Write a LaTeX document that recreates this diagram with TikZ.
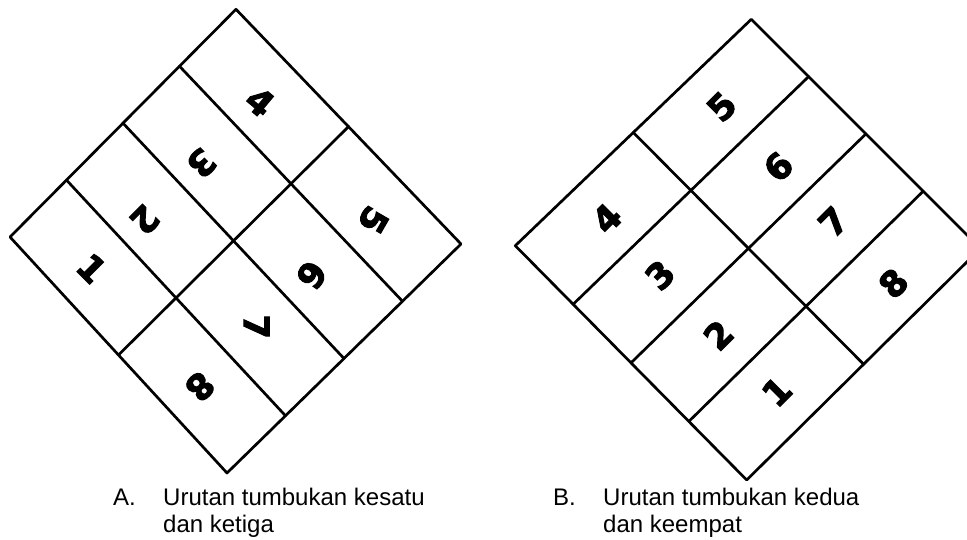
\documentclass[tikz,border=0pt]{standalone}
\usepackage{fontspec}
\setmainfont{Liberation Sans}
\newfontfamily\digitfont{DejaVu Sans}[BoldFeatures={FakeBold=3}]
\usetikzlibrary{calc}
\begin{document}
\begin{tikzpicture}[x=1pt,y=-1pt,
  gridline/.style={line width=2.7pt, line cap=round, line join=round},
  digit/.style={font=\digitfont\bfseries\fontsize{35}{35}\selectfont, inner sep=0pt},
  digitB/.style={digit, rotate=45},
  caption/.style={font=\fontsize{24}{27}\selectfont, anchor=base west, inner sep=0pt}]
\useasboundingbox (0,0) rectangle (967,540);
\clip (0,0) rectangle (967,540);
% ---- left grid (A)
\coordinate (aL) at (10,237);
\coordinate (aT) at (236,9.3);
\coordinate (aR) at (461,244);
\coordinate (aB) at (227,473);
\draw[gridline] (aL) -- (aT) -- (aR) -- (aB) -- cycle;
\foreach \t in {0.25,0.5,0.75}
  \draw[gridline] ($(aL)!\t!(aT)$) -- ($(aB)!\t!(aR)$);
\draw[gridline] ($(aL)!0.5!(aB)$) -- ($(aT)!0.5!(aR)$);
\node[digit, rotate=-45]  (a1) at (91.7,268.3) {1};
\node[digit, rotate=-135] (a2) at (145,220) {2};
\node[digit, rotate=-135] (a3) at (201.7,163.3) {3};
\node[digit, rotate=-40]  (a4) at (260,101.7) {4};
\node[digit, rotate=-120] (a5) at (373.3,220) {5};
\node[digit, rotate=-124] (a6) at (311.7,275) {6};
\node[digit, rotate=-90]  (a7) at (256.7,326.7) {7};
\node[digit, rotate=-135] (a8) at (200,386.7) {8};
% ---- right grid (B)
\coordinate (bL) at (515.3,245.7);
\coordinate (bT) at (751.3,19.3);
\coordinate (bR) at (980.5,248.5);
\coordinate (bB) at (746.7,480);
\draw[gridline] (bL) -- (bT) -- (bR) -- (bB) -- cycle;
\foreach \t in {0.25,0.5,0.75}
  \draw[gridline] ($(bL)!\t!(bB)$) -- ($(bT)!\t!(bR)$);
\draw[gridline] ($(bL)!0.5!(bT)$) -- ($(bB)!0.5!(bR)$);
\node[digitB] (b1) at (776.7,391.7) {1};
\node[digitB] (b2) at (718.3,335) {2};
\node[digitB] (b3) at (660,275) {3};
\node[digitB] (b4) at (606.7,218.3) {4};
\node[digitB] (b5) at (721.7,106.7) {5};
\node[digitB] (b6) at (778.3,166.7) {6};
\node[digitB] (b7) at (833.3,221.7) {7};
\node[digitB] (b8) at (893.3,283.3) {8};
% ---- captions
\node[caption] (capA) at (113,505) {A.};
\node[caption] (capA1) at (163,505) {Urutan tumbukan kesatu};
\node[caption] (capA2) at (163,532) {dan ketiga};
\node[caption] (capB) at (553,505) {B.};
\node[caption] (capB1) at (603,505) {Urutan tumbukan kedua};
\node[caption] (capB2) at (603,532) {dan keempat};
\end{tikzpicture}
\end{document}
